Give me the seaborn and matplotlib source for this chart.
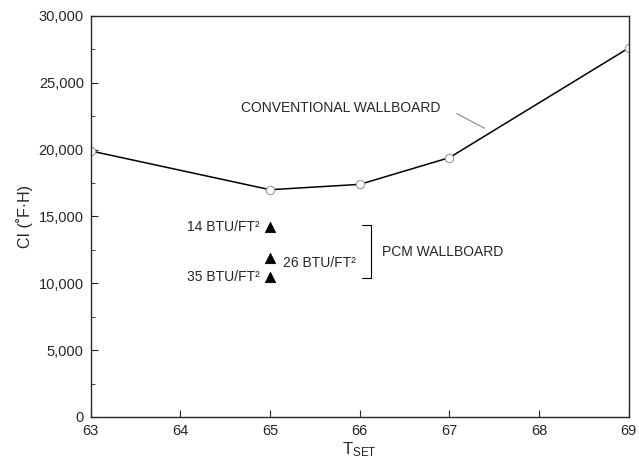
import numpy as np
import pandas as pd
import matplotlib
matplotlib.use("Agg")
import matplotlib.pyplot as plt
import seaborn as sns

# conventional wallboard curve
t_set = [63, 65, 66, 67, 69]
ci_conv = [19900, 17000, 17400, 19400, 27600]

# PCM wallboard points (all at 65)
pcm_t = [65, 65, 65]
pcm_ci = [14200, 11900, 10500]
pcm_labels = ["14 BTU/FT²", "26 BTU/FT²", "35 BTU/FT²"]

sns.set_style("ticks")
plt.rcParams['font.family'] = ['Liberation Sans', 'DejaVu Sans']

df = pd.DataFrame({'T': t_set, 'CI': ci_conv})
pcm = pd.DataFrame({'T': pcm_t, 'CI': pcm_ci, 'label': pcm_labels})

fig = plt.figure(figsize=(6.39, 4.68), dpi=100)
ax = fig.add_axes([0.142, 0.109, 0.842, 0.857])

sns.lineplot(data=df, x='T', y='CI', ax=ax, color='black', linewidth=1.1,
             marker='o', markersize=6, markerfacecolor='white',
             markeredgecolor='#999999', markeredgewidth=0.8)
sns.scatterplot(data=pcm, x='T', y='CI', ax=ax, marker='^', s=55,
                color='black', edgecolor='black', zorder=5)

fs = 10
# labels next to the triangles
ax.text(pcm_t[0] - 0.12, pcm_ci[0], pcm_labels[0], ha='right', va='center', fontsize=fs)
ax.text(pcm_t[1] + 0.14, pcm_ci[1] - 350, pcm_labels[1], ha='left', va='center', fontsize=fs)
ax.text(pcm_t[2] - 0.12, pcm_ci[2], pcm_labels[2], ha='right', va='center', fontsize=fs)

# bracket
bx = 66.12
ax.plot([bx - 0.09, bx, bx, bx - 0.09], [14350, 14350, 10400, 10400],
        color='black', linewidth=0.8)
ax.text(bx + 0.13, 12350, "PCM WALLBOARD", ha='left', va='center', fontsize=fs)

ax.text(64.68, 23100, "CONVENTIONAL WALLBOARD", ha='left', va='center', fontsize=fs)
ax.plot([67.08, 67.39], [22700, 21600], color='#777777', linewidth=0.7)

ax.set_xlim(63, 69)
ax.set_ylim(0, 30000)
ax.set_xticks(np.arange(63, 70, 1))
ax.set_yticks(np.arange(0, 30001, 5000))
ax.set_yticks(np.arange(0, 30001, 2500), minor=True)
ax.set_yticklabels([f"{v:,}" for v in range(0, 30001, 5000)])
ax.tick_params(direction='in', length=5, labelsize=10.5, width=0.8, pad=5)
ax.tick_params(which='minor', direction='in', length=3, width=0.6)
for s in ax.spines.values():
    s.set_linewidth(1.0)

ax.set_xlabel(r"$\mathregular{T_{SET}}$", fontsize=12, labelpad=2)
ax.set_ylabel("CI (˚F·H)", fontsize=11.5, labelpad=4)

fig.savefig("out.png", dpi=100)
